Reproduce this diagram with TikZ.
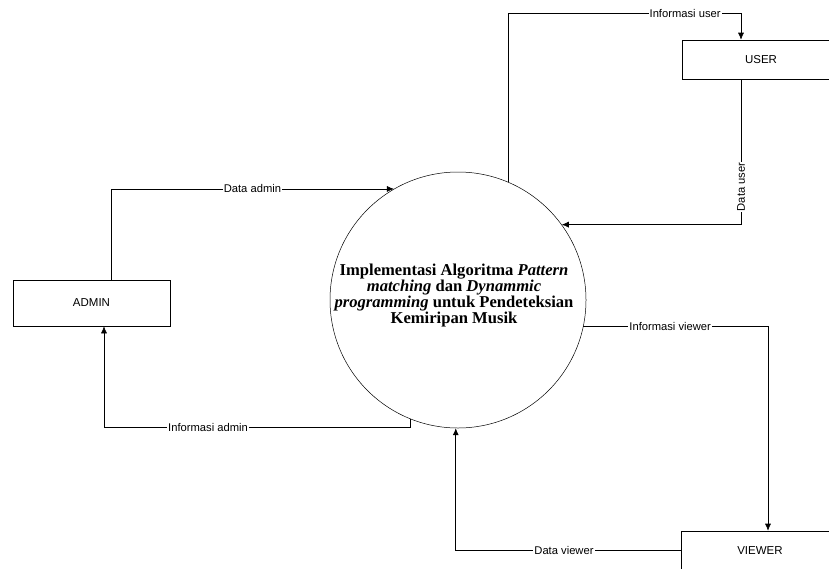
\documentclass[tikz,border=0pt]{standalone}
\usepackage{fontspec}
\setmainfont{Liberation Serif}
\setsansfont{Liberation Sans}
\usepackage{tikz}
\usetikzlibrary{calc,positioning,arrows.meta}
\tikzset{
  entbox/.style={draw, line width=0.6pt, minimum width=157pt, minimum height=39pt, font=\sffamily\fontsize{11.5}{13}\selectfont},
  procnode/.style={draw, circle, line width=0.5pt, minimum size=256pt, inner sep=0pt},
  proctext/.style={align=center, inner sep=0pt, font=\bfseries\fontsize{16.6}{16}\selectfont},
  edgeflow/.style={black, line width=0.6pt, -{Latex[length=7pt,width=6pt]}},
  flowlbl/.style={fill=white, inner sep=1pt, font=\sffamily\fontsize{11.2}{12}\selectfont}
}

\begin{document}
\begin{tikzpicture}[x=1pt, y=-1pt]
\clip (0,0) rectangle (829,568);
\fill[white] (0,0) rectangle (829,568);
\node[procnode] (proc) at (458,300) {};
\node[proctext] (ptext) at (454,296) {Implementasi Algoritma \textit{Pattern}\\ \textit{matching} dan \textit{Dynammic}\\ \textit{programming} untuk Pendeteksian\\ Kemiripan Musik};
\node[entbox, minimum height=46pt] (admin) at (91.5,303) {ADMIN};
\node[entbox] (user) at (761,59.5) {USER};
\node[entbox] (viewer) at (760,550.5) {VIEWER};
\coordinate (adminret) at (104,427);
\coordinate (userin) at (741,13);
\coordinate (viewcol) at (768,0);
% admin
\draw[edgeflow] ([xshift=19.5pt]admin.north) |- node[flowlbl, pos=0.75] {Data admin} (proc.120.5);
\draw[edgeflow] (proc.248) |- node[flowlbl, pos=0.83] {Informasi admin} (adminret) -- (admin.south -| adminret);
% user
\draw[edgeflow] (proc.67) |- node[flowlbl, pos=0.88] {Informasi user} (userin) -- (user.north -| userin);
\draw[edgeflow] (user.south -| userin) |- node[flowlbl, rotate=90, pos=0.37] {Data user} (proc.36);
% viewer
\draw[edgeflow] (proc.-12) -| node[flowlbl, pos=0.235] {Informasi viewer} (viewer.north -| viewcol);
\draw[edgeflow] (viewer.west) -| node[flowlbl, pos=0.26] {Data viewer} (proc.-91);
\end{tikzpicture}
\end{document}
